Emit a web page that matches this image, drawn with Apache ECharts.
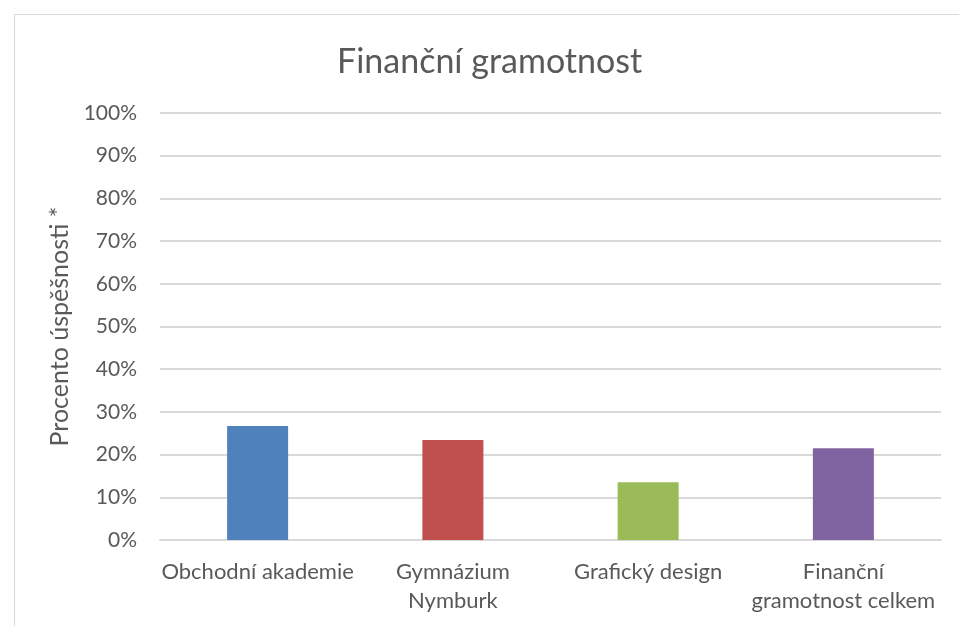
<!DOCTYPE html>
<html><head><meta charset="utf-8">
<script src="https://cdn.jsdelivr.net/npm/echarts@6/dist/echarts.min.js"></script>
<style>
html,body{margin:0;padding:0;background:#fff;}
#frame{position:absolute;left:14px;top:14px;width:960px;height:640px;border:1.5px solid #d9d9d9;box-sizing:border-box;}
#c{position:absolute;left:0;top:0;width:959px;height:626px;}
</style></head>
<body>
<div id="frame"></div>
<div id="c"></div>
<script>
const titleText = 'Finanční gramotnost';
const yAxisName = 'Procento úspěšnosti *';
const categories = ['Obchodní akademie', 'Gymnázium\nNymburk', 'Grafický design', 'Finanční\ngramotnost celkem'];
const values = [26.7, 23.4, 13.5, 21.5];
const barColors = ['#4f81bd', '#c0504d', '#9bbb59', '#8064a2'];
const yTicks = [0, 10, 20, 30, 40, 50, 60, 70, 80, 90, 100];

const font = 'Lato';
const chart = echarts.init(document.getElementById('c'));
chart.setOption({
  animation: false,
  title: {
    text: titleText, left: 332, top: 40,
    textStyle: { fontFamily: font, fontSize: 34, fontWeight: 'normal', color: '#595959' }
  },
  grid: { left: 160, right: 18, top: 113, bottom: 86 },
  xAxis: {
    type: 'category', data: categories,
    axisLine: { show: true, lineStyle: { color: '#d9d9d9', width: 2 } },
    axisTick: { show: false },
    axisLabel: { fontFamily: font, fontSize: 22, color: '#595959', margin: 17, lineHeight: 29, interval: 0 }
  },
  yAxis: {
    type: 'value', min: yTicks[0], max: yTicks[yTicks.length - 1], interval: 10,
    name: yAxisName, nameLocation: 'middle', nameGap: 86, nameRotate: 90,
    nameTextStyle: { fontFamily: font, fontSize: 25, color: '#595959' },
    axisLine: { show: false }, axisTick: { show: false },
    axisLabel: { fontFamily: font, fontSize: 21, color: '#595959', margin: 23, formatter: v => v + '%' },
    splitLine: { lineStyle: { color: '#d9d9d9', width: 2 } }
  },
  series: [{
    type: 'bar', barWidth: 61,
    data: values.map((v, i) => ({ value: v, itemStyle: { color: barColors[i] } }))
  }]
});
</script>
</body></html>
